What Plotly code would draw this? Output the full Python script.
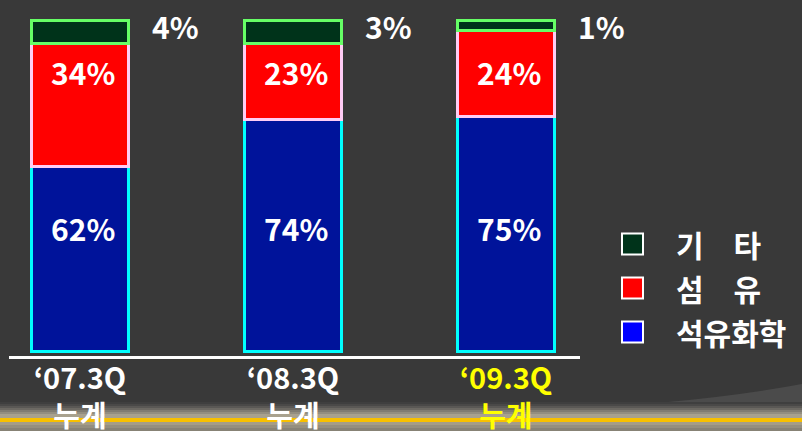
import plotly.graph_objects as go

# ---- data ----
categories = ["'07.3Q 누계", "'08.3Q 누계", "'09.3Q 누계"]
tick_lines_1 = ["‘07.3Q", "‘08.3Q", "‘09.3Q"]
tick_lines_2 = ["누계", "누계", "누계"]
series_names = ["석유화학", "섬유", "기타"]
legend_labels = ["석유화학", "섬　유", "기　타"]
# drawn segment heights
petrochem_height = [56, 70, 71]
fiber_height = [37, 23, 26]
other_height = [7, 7, 3]
# printed labels
petrochem_label = ["62%", "74%", "75%"]
fiber_label = ["34%", "23%", "24%"]
other_label = ["4%", "3%", "1%"]

FONT = "Noto Sans CJK KR"
W, H = 802, 431
ML, MR, MT, MB = 9, 222, 10, 75
PW, PH = W - ML - MR, H - MT - MB


def px(x):
    return (x - ML) / PW


def py(y):
    return (H - MB - y) / PH


fills = ["#00139a", "#ff0000", "#00331a"]
borders = ["#00ffff", "#ffccf5", "#66ff66"]
legend_fill = ["#0000ff", "#ff0000", "#00331a"]
heights = [petrochem_height, fiber_height, other_height]

fig = go.Figure()
for name, h, f, b in zip(series_names, heights, fills, borders):
    fig.add_trace(go.Bar(
        x=categories, y=h, name=name, width=0.455,
        marker=dict(color=f, line=dict(color=b, width=3)),
        showlegend=False, hoverinfo="skip",
    ))

LBL = dict(size=30, color="white", family=FONT, weight="bold")
ann = []
for i, c in enumerate(categories):
    ann.append(dict(x=c, y=37.2, text=petrochem_label[i], showarrow=False,
                    xshift=3, font=LBL))
    ann.append(dict(x=c, y=84.5, text=fiber_label[i], showarrow=False,
                    xshift=3, font=LBL))
    ann.append(dict(x=c, y=98.3, text=other_label[i], showarrow=False,
                    xanchor="left", xshift=70, font=LBL))

# legend (drawn manually)
shapes = []
leg_y = [332, 288, 244]
for lab, col, yy in zip(legend_labels, legend_fill, leg_y):
    shapes.append(dict(type="rect", xref="paper", yref="paper",
                       x0=px(622), x1=px(643), y0=py(yy + 10.5), y1=py(yy - 10.5),
                       fillcolor=col, line=dict(color="white", width=2)))
    ann.append(dict(xref="paper", yref="paper", x=px(674), y=py(yy), text=lab,
                    showarrow=False, xanchor="left", yanchor="middle", font=LBL))

# bottom decoration
shapes.append(dict(type="path", xref="paper", yref="paper", layer="below",
                   path=f"M {px(560)} {py(409)} Q {px(700)} {py(403)} {px(802)} {py(384)} "
                        f"L {px(802)} {py(431)} L {px(560)} {py(431)} Z",
                   fillcolor="#4b4b4b", line=dict(width=0)))
band = [
    (402, 404, "#3f3f3f"), (404, 406, "#4a4948"), (406, 408, "#5a5855"),
    (408, 410, "#6c6963"), (410, 412, "#807c72"), (412, 414, "#938e80"),
    (414, 418, "#a8a18e"), (418, 422, "#f8c000"), (422, 425, "#a59d88"),
    (425, 428, "#958f7f"), (428, 432, "#878275"),
]
for y0, y1, col in band:
    shapes.append(dict(type="rect", xref="paper", yref="paper", layer="below",
                       x0=px(-2), x1=px(804), y0=py(y1), y1=py(y0),
                       fillcolor=col, line=dict(width=0)))

ticktext = []
for i in range(3):
    if i == 2:
        ticktext.append(f"<span style='color:#ffff00'>{tick_lines_1[i]}</span><br>"
                        f"<span style='color:#ffff00'>{tick_lines_2[i]}</span>")
    else:
        ticktext.append(f"{tick_lines_1[i]}<br>{tick_lines_2[i]}")

fig.update_layout(
    width=W, height=H, barmode="stack",
    margin=dict(l=ML, r=MR, t=MT, b=MB, autoexpand=False),
    paper_bgcolor="#393939", plot_bgcolor="rgba(0,0,0,0)",
    font=dict(family=FONT, color="white"),
    annotations=ann, shapes=shapes,
    xaxis=dict(type="category", range=[-0.333, 2.348], tickmode="array",
               tickvals=categories, ticktext=ticktext, showgrid=False,
               showline=True, linecolor="white", linewidth=3, ticks="",
               tickfont=dict(size=29, color="white", family=FONT, weight="bold"),
               ticklabelstandoff=-5,
               zeroline=False, automargin=False),
    yaxis=dict(range=[-1.36, 103.17], visible=False, showgrid=False,
               zeroline=False, automargin=False),
)

fig.write_html(
    "out.html",
    config={"displayModeBar": False},
    post_script="document.body.style.margin='0';document.body.style.overflow='hidden';"
                "document.body.style.background='#393939';",
)
